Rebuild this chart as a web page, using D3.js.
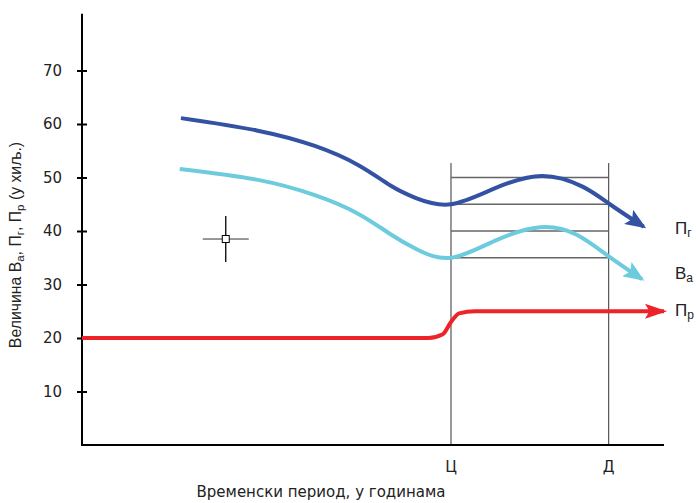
<!DOCTYPE html>
<html><head><meta charset="utf-8">
<script src="https://cdn.jsdelivr.net/npm/d3@7"></script>
<style>body{margin:0;background:#fff}svg{display:block}</style>
</head><body>
<svg id="c" width="696" height="503"></svg>
<script>
// data
const yTicks = [10, 20, 30, 40, 50, 60, 70];
const periodNames = ["Ц", "Д"];
const periodX = [63.4, 90.5];
const levels = [50, 45, 40, 35];
const pgX = [17.0, 30.0, 40.0, 47.5, 53.0, 57.5, 63.4, 71.0, 79.0, 86.0, 90.7, 96.5];
const pgY = [61.1, 58.8, 55.9, 52.3, 48.5, 46.1, 45.0, 48.0, 50.3, 48.3, 45.0, 40.8];
const vaX = [16.8, 30.0, 40.0, 47.5, 53.0, 57.5, 63.4, 71.0, 78.7, 85.0, 90.7, 96.2];
const vaY = [51.6, 49.6, 46.7, 43.2, 39.4, 36.6, 35.0, 38.2, 40.7, 39.3, 35.1, 31.0];
const prX = [0, 59.5, 62.0, 63.4, 64.8, 67.5, 100];
const prY = [20, 20, 20.7, 23.0, 24.6, 25, 25];
const crossPoint = [24.7, 38.5];

const svg = d3.select("#c");
const x = d3.scaleLinear().domain([0, 100]).range([82, 664]);
const y = d3.scaleLinear().domain([0, 70]).range([445, 70.5]);
const yTop = 80.6;

const cDark = "#3352a3", cLight = "#6ccbdc", cRed = "#ee2229";

// markers
const defs = svg.append("defs");
function mk(id, col, len, wid) {
  defs.append("marker").attr("id", id).attr("markerUnits", "userSpaceOnUse")
    .attr("viewBox", `0 ${-wid/2} ${len} ${wid}`).attr("refX", len - 3).attr("refY", 0)
    .attr("markerWidth", len).attr("markerHeight", wid).attr("orient", "auto")
    .append("path").attr("d", `M0,${-wid/2}L${len},0L0,${wid/2}L${len*0.2},0Z`).attr("fill", col);
}
mk("aDark", cDark, 21, 17);
mk("aLight", cLight, 21, 17);
mk("aRed", cRed, 22, 15);

// period lines
svg.append("g").selectAll("line").data(periodX).join("line")
  .attr("x1", d => x(d)).attr("x2", d => x(d))
  .attr("y1", y(52.7)).attr("y2", y(0))
  .attr("stroke", "#333").attr("stroke-width", 1);
svg.append("g").selectAll("line").data(levels).join("line")
  .attr("x1", x(periodX[0])).attr("x2", x(periodX[1]))
  .attr("y1", d => y(d)).attr("y2", d => y(d))
  .attr("stroke", "#666").attr("stroke-width", 1.3);

// axes
const ax = svg.append("g").attr("transform", `translate(${x(0)},0)`)
  .call(d3.axisLeft(y).tickValues(yTicks).tickSize(5).tickPadding(15));
ax.select(".domain").remove();
ax.selectAll(".tick line").attr("x2", -5).attr("x1", 5).attr("stroke", "#000").attr("stroke-width", 2);
ax.selectAll(".tick text").attr("font-family", "DejaVu Sans, Verdana, sans-serif").attr("font-size", 15).attr("fill", "#222");
svg.append("line").attr("x1", x(0)).attr("x2", x(0)).attr("y1", y(yTop)).attr("y2", y(0)).attr("stroke", "#000").attr("stroke-width", 2);
svg.append("line").attr("x1", x(0) - 1).attr("x2", x(100)).attr("y1", y(0)).attr("y2", y(0)).attr("stroke", "#000").attr("stroke-width", 2);

// period labels
svg.append("g").selectAll("text").data(periodNames).join("text")
  .attr("x", (d, i) => x(periodX[i])).attr("y", 472).attr("text-anchor", "middle")
  .attr("font-family", "DejaVu Sans, Verdana, sans-serif").attr("font-size", 15).attr("fill", "#222").text(d => d);

// curves
const lineM = d3.line().x(d => x(d[0])).y(d => y(d[1])).curve(d3.curveMonotoneX);
const lineN = d3.line().x(d => x(d[0])).y(d => y(d[1])).curve(d3.curveNatural);
svg.append("path").datum(d3.zip(prX, prY)).attr("d", lineM).attr("fill", "none")
  .attr("stroke", cRed).attr("stroke-width", 4).attr("marker-end", "url(#aRed)");
svg.append("path").datum(d3.zip(vaX, vaY)).attr("d", lineN).attr("fill", "none")
  .attr("stroke", cLight).attr("stroke-width", 4).attr("marker-end", "url(#aLight)");
svg.append("path").datum(d3.zip(pgX, pgY)).attr("d", lineN).attr("fill", "none")
  .attr("stroke", cDark).attr("stroke-width", 4).attr("marker-end", "url(#aDark)");

// crosshair
const cx = x(crossPoint[0]), cy = y(crossPoint[1]);
const ch = svg.append("g").attr("stroke", "#000");
ch.append("line").attr("x1", cx - 23).attr("x2", cx + 23).attr("y1", cy).attr("y2", cy).attr("stroke-width", 1).attr("stroke", "#333");
ch.append("line").attr("x1", cx).attr("x2", cx).attr("y1", cy - 23).attr("y2", cy + 23).attr("stroke-width", 1.3);
ch.append("rect").attr("x", cx - 3.5).attr("y", cy - 3.5).attr("width", 7).attr("height", 7).attr("fill", "#fff").attr("stroke-width", 1);

// series labels
const lab = [["П", "г", 40.6], ["В", "a", 32.2], ["П", "р", 25.2]];
const lg = svg.append("g").attr("font-family", "Liberation Sans, Arial, sans-serif").attr("fill", "#222");
lab.forEach(([m, s, v]) => {
  const t = lg.append("text").attr("x", 675).attr("y", y(v) + 6).attr("font-size", 17);
  t.append("tspan").text(m);
  t.append("tspan").attr("font-size", 12).attr("dy", 3).text(s);
});

// axis titles
svg.append("text").attr("x", 321).attr("y", 497).attr("text-anchor", "middle")
  .attr("font-family", "DejaVu Sans, Verdana, sans-serif").attr("font-size", 15).attr("fill", "#222")
  .text("Временски период, у годинама");
const yl = svg.append("text").attr("transform", "translate(21,245) rotate(-90)").attr("text-anchor", "middle")
  .attr("font-family", "Liberation Sans, Arial, sans-serif").attr("font-size", 15.8).attr("fill", "#222");
yl.append("tspan").text("Величина В");
yl.append("tspan").attr("font-size", 11.5).attr("dy", 3).text("а");
yl.append("tspan").attr("dy", -3).text(", П");
yl.append("tspan").attr("font-size", 11.5).attr("dy", 3).text("г");
yl.append("tspan").attr("dy", -3).text(", П");
yl.append("tspan").attr("font-size", 11.5).attr("dy", 3).text("р");
yl.append("tspan").attr("dy", -3).text(" (у хиљ.)");
</script>
</body></html>
